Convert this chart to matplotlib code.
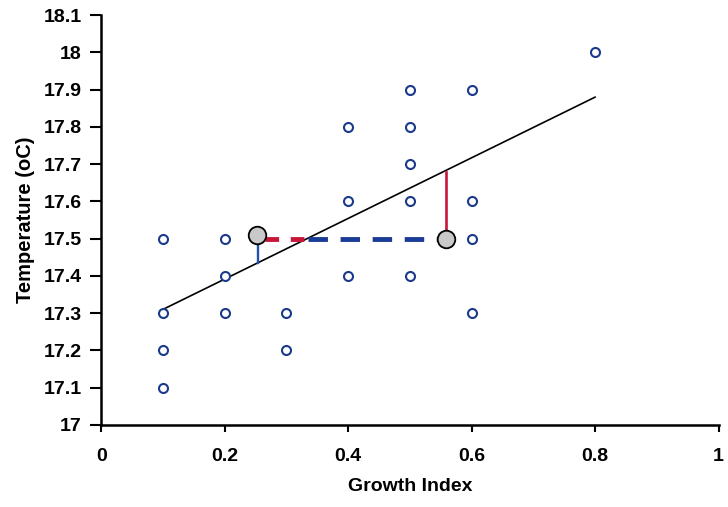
import matplotlib
matplotlib.use("Agg")
import matplotlib.pyplot as plt

plt.rcParams['font.family'] = ['Liberation Sans', 'DejaVu Sans']

# Observations: growth index vs temperature
growth = [0.1, 0.1, 0.1, 0.1,
          0.2, 0.2, 0.2,
          0.3, 0.3,
          0.4, 0.4, 0.4,
          0.5, 0.5, 0.5, 0.5, 0.5,
          0.6, 0.6, 0.6, 0.6,
          0.8]
temperature = [17.5, 17.3, 17.2, 17.1,
               17.5, 17.4, 17.3,
               17.3, 17.2,
               17.8, 17.6, 17.4,
               17.9, 17.8, 17.7, 17.6, 17.4,
               17.9, 17.6, 17.5, 17.3,
               18.0]

# Fitted trend line end points
trend_x = [0.1, 0.8]
trend_y = [17.31, 17.88]

# Two highlighted samples and their residuals to the trend line
sample_x = [0.253, 0.558]
sample_y = [17.51, 17.50]
resid_low_x = [0.254, 0.254]
resid_low_y = [17.51, 17.435]
resid_high_x = [0.558, 0.558]
resid_high_y = [17.50, 17.68]
# Horizontal link between the two samples (red part up to the trend line)
link_red_x = [0.265, 0.335]
link_blue_x = [0.335, 0.55]
link_y = [17.5, 17.5]

x_ticks = [0, 0.2, 0.4, 0.6, 0.8, 1]
x_labels = ["0", "0.2", "0.4", "0.6", "0.8", "1"]
y_ticks = [17.0, 17.1, 17.2, 17.3, 17.4, 17.5, 17.6, 17.7, 17.8, 17.9, 18.0, 18.1]
y_labels = ["17", "17.1", "17.2", "17.3", "17.4", "17.5", "17.6", "17.7", "17.8", "17.9", "18", "18.1"]

blue = "#1c3a8c"
red = "#c8163a"
dash_blue = "#1a3c96"

fig = plt.figure(figsize=(7.28, 5.07), dpi=100)
ax = fig.add_axes([0.139, 0.162, 0.848, 0.808])

ax.plot(trend_x, trend_y, color="black", lw=1.2, zorder=2)
ax.plot(link_red_x, link_y, color=red, lw=3.5, dashes=(2.8, 2.4), zorder=3)
ax.plot(link_blue_x, link_y, color=dash_blue, lw=3.5, dashes=(4.0, 2.6), zorder=3)
ax.plot(resid_low_x, resid_low_y, color="#2050b0", lw=1.7, zorder=3)
ax.plot(resid_high_x, resid_high_y, color=red, lw=1.9, zorder=3)

ax.scatter(growth, temperature, s=42, facecolor="white", edgecolor=blue,
           linewidth=1.5, zorder=4)
ax.scatter(sample_x, sample_y, s=160, facecolor="#c9c9c9", edgecolor="black",
           linewidth=1.3, zorder=5)

ax.set_xlim(0, 1)
ax.set_ylim(17.0, 18.1)
ax.set_xticks(x_ticks)
ax.set_xticklabels(x_labels)
ax.set_yticks(y_ticks)
ax.set_yticklabels(y_labels)

for side in ("top", "right"):
    ax.spines[side].set_visible(False)
for side in ("left", "bottom"):
    ax.spines[side].set_linewidth(1.8)
    ax.spines[side].set_color("black")

ax.tick_params(axis="y", direction="out", length=8, width=1.5, pad=6,
               labelsize=14)
ax.tick_params(axis="x", direction="out", length=5, width=1.5, pad=12,
               labelsize=14)
for lab in ax.get_xticklabels() + ax.get_yticklabels():
    lab.set_fontweight("bold")

ax.set_xlabel("Growth Index", fontsize=14, fontweight="bold", labelpad=9)
ax.set_ylabel("Temperature (oC)", fontsize=14.5, fontweight="bold", labelpad=6)

fig.savefig("out.png", dpi=100)
